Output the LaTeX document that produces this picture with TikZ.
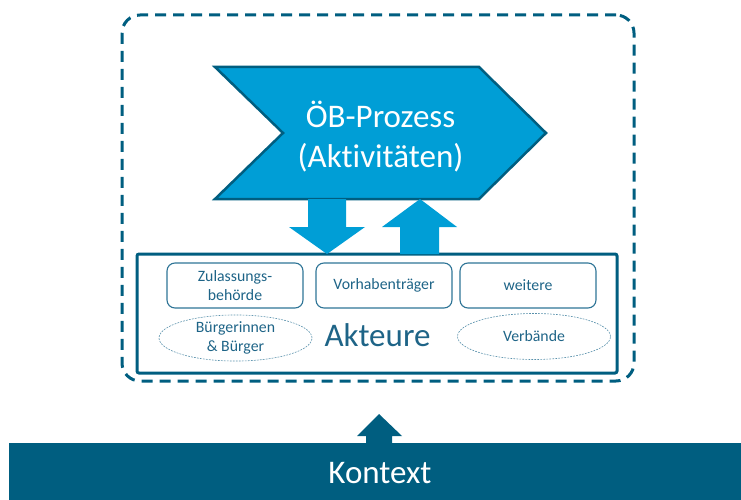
\documentclass[tikz,border=0pt]{standalone}
\usepackage{fontspec}
\setmainfont{Carlito}[Ligatures=NoCommon]
\usepackage{xcolor}
\usetikzlibrary{positioning,backgrounds,shapes.geometric}

\definecolor{tealdark}{RGB}{0,94,128}
\definecolor{procblue}{RGB}{0,158,214}
\definecolor{actorline}{RGB}{46,116,150}
\definecolor{actortext}{RGB}{30,100,135}

% lower a line without changing its reported size
\newcommand{\lowered}[2]{\raisebox{-#1}[\height][\depth]{#2}}

\begin{document}
\begin{tikzpicture}[
  x=1pt, y=-1pt,
  bigfont/.style={font=\fontsize{33}{40}\selectfont},
  smallfont/.style={font=\fontsize{15.8}{19}\selectfont},
  boundary/.style={draw=tealdark, line width=3pt, rounded corners=18pt,
              dash pattern=on 11pt off 7pt, minimum width=512pt,
              minimum height=366pt, outer sep=0pt},
  procbox/.style={bigfont, text=white, align=center, inner sep=0pt,
              outer sep=0pt, minimum width=331pt, minimum height=132pt},
  chevron/.style={fill=procblue, draw=tealdark, line width=2.5pt},
  actorbox/.style={draw=tealdark, line width=3pt, rounded corners=2pt,
              minimum width=480pt, minimum height=119pt, outer sep=0pt},
  rolebox/.style={draw=actorline, line width=1.1pt, rounded corners=8pt,
              smallfont, text=actortext, align=center, minimum width=136pt,
              minimum height=45pt, outer sep=0pt},
  groupoval/.style={ellipse, draw=actorline!80, line width=0.6pt,
              dash pattern=on 1.8pt off 1.2pt, smallfont, text=actortext,
              align=center, inner sep=0pt, minimum width=153pt,
              minimum height=46pt},
  flow/.style={fill=procblue},
  lift/.style={fill=tealdark}
]
\useasboundingbox (0,0) rectangle (741,500);

% outer frame and process step
\node[boundary] (boundary) at (378,198) {};
\node[procbox] (process) at (380.5,133)
  {\lowered{4pt}{ÖB-Prozess}\\\lowered{4pt}{(Aktivitäten)}};
\begin{scope}[on background layer]
  \filldraw[chevron] (process.north west) -- ([xshift=-67pt]process.north east)
    -- (process.east) -- ([xshift=-67pt]process.south east)
    -- (process.south west) -- ([xshift=68pt]process.west) -- cycle;
\end{scope}

% actors
\node[actorbox] (actors) at (377,313.5) {};
\node[rolebox] (authority) at (235,285.5) {Zulassungs-\\behörde};
\node[rolebox, right=13pt of authority] (developer) {Vorhabenträger};
\node[rolebox, right=8pt of developer] (others) {weitere};
\node[groupoval] (citizens) at (235.5,338) {Bürgerinnen\\\& Bürger};
\node[groupoval] (associations) at (534,336.5) {Verbände};
\node[bigfont, text=actortext, anchor=base] (actorname) at (377.5,346) {Akteure};

% exchange between process and actors
\fill[flow] ([xshift=-72.5pt]process.south) -- ([xshift=-34.5pt]process.south)
  -- ++(0,28) -- ++(19,0) -- ([xshift=-53.5pt]process.south |- actors.north)
  -- ++(-38,-27) -- ++(19,0) -- cycle;
\fill[flow] ([xshift=19.5pt]process.south |- actors.north) -- ++(0,-27)
  -- ++(-18,0) -- ([xshift=39.5pt]process.south) -- ++(37,28)
  -- ++(-18,0) -- ([xshift=58.5pt]process.south |- actors.north) -- cycle;

% context bar (runs off the right edge)
\node[fill=tealdark, text=white, bigfont, minimum width=742pt,
  minimum height=57pt, outer sep=0pt] (context) at (380,471.5)
  {\lowered{2pt}{Kontext}};
\coordinate (liftTip) at ([xshift=-1pt, yshift=29pt]context.north);
\fill[lift] ([xshift=-14pt]context.north) -- ++(0,-7) -- ++(-9,0) -- (liftTip)
  -- ++(23,22) -- ++(-10,0) -- ([xshift=12pt]context.north) -- cycle;
\end{tikzpicture}
\end{document}
